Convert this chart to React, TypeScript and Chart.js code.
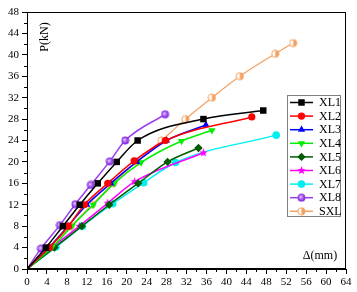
import React, { useEffect, useRef } from "react";
import { Chart, registerables } from "chart.js";
import { drawPoint } from "chart.js/helpers";

Chart.register(...registerables);

const seriesNames = ["XL1", "XL2", "XL3", "XL4", "XL5", "XL6", "XL7", "XL8", "SXL"];

const xl1Delta = [0, 3.8, 7.2, 10.6, 14.2, 18.0, 22.2, 35.4, 47.4];
const xl1Load = [0, 4, 8, 12, 16, 20, 24, 28, 29.6];

const xl2Delta = [0, 4.5, 8.3, 11.5, 16.2, 21.5, 27.8, 45.1];
const xl2Load = [0, 4, 8, 12, 16, 20.2, 24, 28.4];

const xl3Delta = [0, 4.4, 8.2, 12.0, 16.8, 22.0, 28.0, 35.9];
const xl3Load = [0, 4, 8, 12, 16, 20, 24, 26.9];

const xl4Delta = [0, 5.0, 9.0, 13.3, 17.5, 22.9, 31.0, 37.1];
const xl4Load = [0, 4, 8, 12, 16, 19.9, 23.9, 25.9];

const xl5Delta = [0, 5.5, 11.0, 16.5, 22.3, 28.2, 34.4];
const xl5Load = [0, 4, 8, 12, 16, 20, 22.6];

const xl6Delta = [0, 5.0, 10.5, 16.2, 21.6, 35.4];
const xl6Load = [0, 4, 8, 12.3, 16.3, 21.7];

const xl7Delta = [0, 5.8, 11.1, 17.2, 23.4, 29.8, 50.0];
const xl7Load = [0, 4.1, 8, 12.2, 16.1, 19.9, 25.0];

const xl8Delta = [0, 2.8, 6.6, 9.7, 12.8, 16.6, 19.7, 27.7];
const xl8Load = [0, 3.8, 8.2, 12.1, 15.7, 20.1, 24, 28.9];

const sxlDelta = [0, 4.5, 8.8, 13.0, 17.3, 22.0, 27.0, 31.8, 37.1, 42.7, 49.8, 53.4];
const sxlLoad = [0, 4, 8, 12, 16, 20, 24, 28, 32, 36, 40.2, 42.2];

const xTicks = [0, 64, 4];
const yTicks = [0, 48, 4];

const colors = ["#000000", "#ff0000", "#0000ff", "#00ee00", "#005a00", "#ff00ff", "#00f0f0", "#9b3cf0", "#f4a060"];

function makeCanvas(size: number, draw: (c: CanvasRenderingContext2D, s: number) => void) {
  const cv = document.createElement("canvas");
  cv.width = size;
  cv.height = size;
  const c = cv.getContext("2d")!;
  draw(c, size);
  return cv;
}

const starImg = makeCanvas(9, (c, s) => {
  const cx = s / 2, cy = s / 2, R = 4.4, r = 1.9;
  c.beginPath();
  for (let i = 0; i < 10; i++) {
    const a = -Math.PI / 2 + (i * Math.PI) / 5;
    const rr = i % 2 === 0 ? R : r;
    const px = cx + rr * Math.cos(a), py = cy + rr * Math.sin(a);
    if (i === 0) c.moveTo(px, py); else c.lineTo(px, py);
  }
  c.closePath();
  c.fillStyle = "#ff00ff";
  c.fill();
});

const ballImg = makeCanvas(9, (c, s) => {
  const g = c.createRadialGradient(3.6, 3.6, 0.3, 4.5, 4.5, 4.3);
  g.addColorStop(0, "#e8c8ff");
  g.addColorStop(0.5, "#a050f0");
  g.addColorStop(1, "#7a20d8");
  c.beginPath();
  c.arc(s / 2, s / 2, 3.9, 0, Math.PI * 2);
  c.fillStyle = g;
  c.fill();
});

const halfImg = makeCanvas(9, (c, s) => {
  c.beginPath();
  c.arc(s / 2, s / 2, 3.6, 0, Math.PI * 2);
  c.fillStyle = "#ffffff";
  c.fill();
  c.beginPath();
  c.arc(s / 2, s / 2, 3.6, -Math.PI / 2, Math.PI / 2);
  c.closePath();
  c.fillStyle = "#f4a060";
  c.fill();
  c.beginPath();
  c.arc(s / 2, s / 2, 3.6, 0, Math.PI * 2);
  c.strokeStyle = "#f4a060";
  c.lineWidth = 1;
  c.stroke();
});

const pointStyles: any[] = ["rect", "circle", "triangle", "triangle", "rectRot", starImg, "circle", ballImg, halfImg];
const pointRotations = [0, 0, 0, 180, 0, 0, 0, 0, 0];
const pointRadii = [4.6, 3.6, 4.2, 4.2, 4.2, 4.5, 3.8, 4.5, 4.5];

const deltas = [xl1Delta, xl2Delta, xl3Delta, xl4Delta, xl5Delta, xl6Delta, xl7Delta, xl8Delta, sxlDelta];
const loads = [xl1Load, xl2Load, xl3Load, xl4Load, xl5Load, xl6Load, xl7Load, xl8Load, sxlLoad];

const FONT = "'Liberation Serif', 'DejaVu Serif', serif";

const framePlugin = {
  id: "frame",
  afterDraw(chart: any) {
    const { ctx, chartArea: a, scales } = chart;
    ctx.save();
    ctx.strokeStyle = "#000";
    ctx.lineWidth = 1;
    ctx.strokeRect(Math.round(a.left) + 0.5, Math.round(a.top) + 0.5, Math.round(a.right - a.left) - 1, Math.round(a.bottom - a.top) - 1);
    // minor ticks
    ctx.beginPath();
    for (let v = 2; v < 64; v += 4) {
      const x = Math.round(scales.x.getPixelForValue(v)) + 0.5;
      ctx.moveTo(x, a.bottom);
      ctx.lineTo(x, a.bottom + 3);
    }
    for (let v = 2; v < 48; v += 4) {
      const y = Math.round(scales.y.getPixelForValue(v)) + 0.5;
      ctx.moveTo(a.left, y);
      ctx.lineTo(a.left - 3, y);
    }
    ctx.stroke();

    // axis titles
    ctx.fillStyle = "#000";
    ctx.font = `12px ${FONT}`;
    ctx.textAlign = "center";
    ctx.textBaseline = "middle";
    ctx.save();
    ctx.translate(45, 37);
    ctx.rotate(-Math.PI / 2);
    ctx.fillText("P(kN)", 0, 0);
    ctx.restore();
    ctx.fillText("Δ(mm)", 320, 256);

    // legend
    const lx = 287.5, ly = 95.5, lw = 53, lh = 121;
    ctx.fillStyle = "#fff";
    ctx.fillRect(lx, ly, lw, lh);
    ctx.strokeStyle = "#808080";
    ctx.strokeRect(lx, ly, lw, lh);
    seriesNames.forEach((name, i) => {
      const y = 102.5 + i * 13.6;
      ctx.strokeStyle = colors[i];
      ctx.lineWidth = 1.5;
      ctx.beginPath();
      ctx.moveTo(290, y);
      ctx.lineTo(313, y);
      ctx.stroke();
      ctx.fillStyle = colors[i];
      drawPoint(ctx, { pointStyle: pointStyles[i], radius: pointRadii[i], rotation: pointRotations[i], borderWidth: 0 } as any, 301.5, y);
      ctx.fillStyle = "#000";
      ctx.font = `12px ${FONT}`;
      ctx.textAlign = "left";
      ctx.fillText(name, 319, y + 0.5);
    });
    ctx.restore();
  },
};

export default function App() {
  const ref = useRef<HTMLCanvasElement>(null);
  useEffect(() => {
    const datasets = seriesNames.map((name, i) => ({
      label: name,
      data: deltas[i].map((d, j) => ({ x: d, y: loads[i][j] })),
      borderColor: colors[i],
      backgroundColor: colors[i],
      borderWidth: i === 8 ? 1.2 : 1.5,
      pointStyle: pointStyles[i],
      pointRotation: pointRotations[i],
      pointRadius: (ctx: any) => (ctx.dataIndex === 0 ? 0 : pointRadii[i]),
      pointBorderWidth: 0,
      cubicInterpolationMode: "monotone" as const,
      showLine: true,
    }));
    const chart = new Chart(ref.current!, {
      type: "scatter",
      data: { datasets },
      options: {
        animation: false,
        responsive: false,
        devicePixelRatio: 1,
        layout: { padding: { top: 12, right: 11, left: 0, bottom: 0 } },
        plugins: { legend: { display: false }, tooltip: { enabled: false } },
        scales: {
          x: {
            type: "linear",
            min: xTicks[0],
            max: xTicks[1],
            afterFit: (s: any) => { s.height = 23; },
            ticks: { stepSize: xTicks[2], color: "#000", font: { family: FONT, size: 11 }, padding: 2, maxRotation: 0, autoSkip: false },
            grid: { drawOnChartArea: false, drawTicks: true, tickLength: 5, color: "#000" },
            border: { display: true, color: "#000" },
          },
          y: {
            type: "linear",
            min: yTicks[0],
            max: yTicks[1],
            afterFit: (s: any) => { s.width = 27; },
            ticks: { stepSize: yTicks[2], color: "#000", font: { family: FONT, size: 11 }, padding: 3, autoSkip: false },
            grid: { drawOnChartArea: false, drawTicks: true, tickLength: 5, color: "#000" },
            border: { display: true, color: "#000" },
          },
        },
      },
      plugins: [framePlugin],
    });
    return () => chart.destroy();
  }, []);
  return (
    <div style={{ position: "fixed", left: 0, top: 0, width: 357, height: 292, background: "#fff" }}>
      <canvas ref={ref} width={357} height={292} style={{ width: 357, height: 292, display: "block" }} />
    </div>
  );
}
